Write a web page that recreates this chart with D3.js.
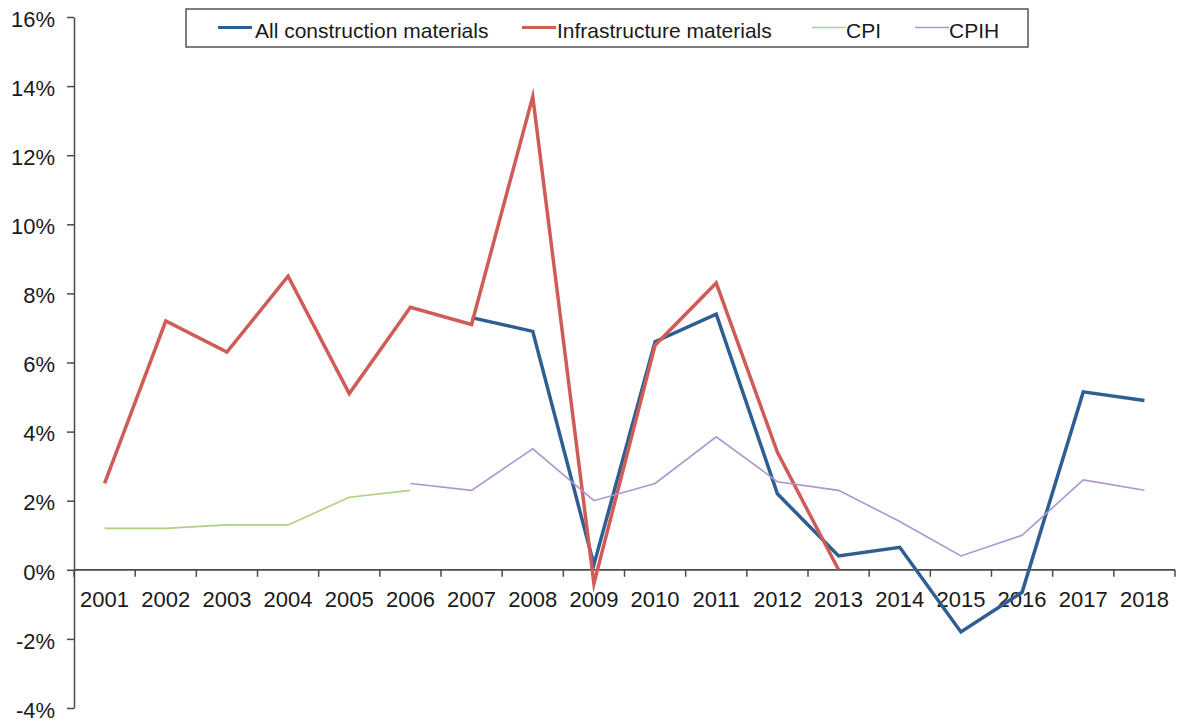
<!DOCTYPE html>
<html>
<head>
<meta charset="utf-8">
<script src="https://cdn.jsdelivr.net/npm/d3@7"></script>
<style>
  html, body { margin: 0; padding: 0; background: #fff; }
  svg { display: block; font-family: "Liberation Sans", Arial, Helvetica, sans-serif; }
</style>
</head>
<body>
<svg id="chart" width="1184" height="722"></svg>
<script>
const years = ["2001","2002","2003","2004","2005","2006","2007","2008","2009","2010","2011","2012","2013","2014","2015","2016","2017","2018"];
const allConstruction = [null,null,null,null,null,null,7.3,6.9,0.15,6.6,7.4,2.2,0.4,0.65,-1.8,-0.65,5.15,4.9];
const infrastructure = [2.5,7.2,6.3,8.5,5.1,7.6,7.1,13.7,-0.4,6.5,8.3,3.4,0,null,null,null,null,null];
const cpi = [1.2,1.2,1.3,1.3,2.1,2.3,null,null,null,null,null,null,null,null,null,null,null,null];
const cpih = [null,null,null,null,null,2.5,2.3,3.5,2.0,2.5,3.85,2.55,2.3,1.4,0.4,1.0,2.6,2.3];
const yTicks = [-4,-2,0,2,4,6,8,10,12,14,16];
const seriesNames = ["All construction materials","Infrastructure materials","CPI","CPIH"];

const series = [
  {name: seriesNames[0], values: allConstruction, color: "#2d5f92", width: 3.5},
  {name: seriesNames[1], values: infrastructure, color: "#cf5c56", width: 3.5},
  {name: seriesNames[2], values: cpi, color: "#aed083", width: 1.6},
  {name: seriesNames[3], values: cpih, color: "#ad95cf", width: 1.6}
];

const svg = d3.select("#chart");
const x = d3.scaleBand().domain(years).range([74, 1175]).padding(0);
const y = d3.scaleLinear().domain([-4, 16]).range([708, 17]);
const axisColor = "#4a4a4a";

// Y axis
const yAxis = svg.append("g").attr("transform", "translate(74,0)")
  .call(d3.axisLeft(y).tickValues(yTicks).tickSize(7).tickSizeOuter(0).tickPadding(12)
    .tickFormat(d => d + "%"));
yAxis.select(".domain").attr("stroke", axisColor).attr("stroke-width", 1.5);
yAxis.selectAll(".tick line").attr("stroke", axisColor).attr("stroke-width", 1.5);
yAxis.selectAll(".tick text").attr("font-size", 22).attr("fill", "#1a1a1a")
  .attr("font-family", "Liberation Sans, Arial, sans-serif").attr("dy", "0.42em");

// X axis line with ticks at band boundaries
const y0 = y(0);
const xg = svg.append("g");
xg.append("line").attr("x1", x.range()[0]).attr("x2", x.range()[1])
  .attr("y1", y0).attr("y2", y0).attr("stroke", axisColor).attr("stroke-width", 1.8);
const boundaries = years.map(d => x(d)).concat([x(years[years.length-1]) + x.bandwidth()]);
xg.selectAll("line.tk").data(boundaries).enter().append("line").attr("class","tk")
  .attr("x1", d => d).attr("x2", d => d).attr("y1", y0).attr("y2", y0 + 7)
  .attr("stroke", axisColor).attr("stroke-width", 1.5);
xg.selectAll("text").data(years).enter().append("text")
  .attr("x", d => x(d) + x.bandwidth()/2).attr("y", y0 + 37.5)
  .attr("text-anchor", "middle").attr("font-size", 22).attr("fill", "#1a1a1a")
  .text(d => d);

// Lines
const line = d3.line()
  .defined(d => d.v !== null)
  .x(d => x(d.year) + x.bandwidth()/2)
  .y(d => y(d.v));

series.forEach(s => {
  const pts = years.map((yr, i) => ({year: yr, v: s.values[i]}));
  svg.append("path").datum(pts)
    .attr("fill", "none").attr("stroke", s.color).attr("stroke-width", s.width)
    .attr("stroke-linejoin", "miter").attr("stroke-miterlimit", 10)
    .attr("d", line);
});

// Legend
const lg = svg.append("g");
lg.append("rect").attr("x", 186).attr("y", 9).attr("width", 842).attr("height", 38)
  .attr("fill", "#fff").attr("stroke", "#3a3a3a").attr("stroke-width", 1.3);
const legendPos = [{lx: 218, tx: 255}, {lx: 522, tx: 557}, {lx: 812, tx: 846}, {lx: 915, tx: 949}];
series.forEach((s, i) => {
  const p = legendPos[i];
  lg.append("line").attr("x1", p.lx).attr("x2", p.lx + 34).attr("y1", 27.5).attr("y2", 27.5)
    .attr("stroke", s.color).attr("stroke-width", s.width === 3.5 ? 3 : 1.6);
  lg.append("text").attr("x", p.tx).attr("y", 38).attr("font-size", 21).attr("fill", "#1a1a1a")
    .text(s.name);
});
</script>
</body>
</html>
